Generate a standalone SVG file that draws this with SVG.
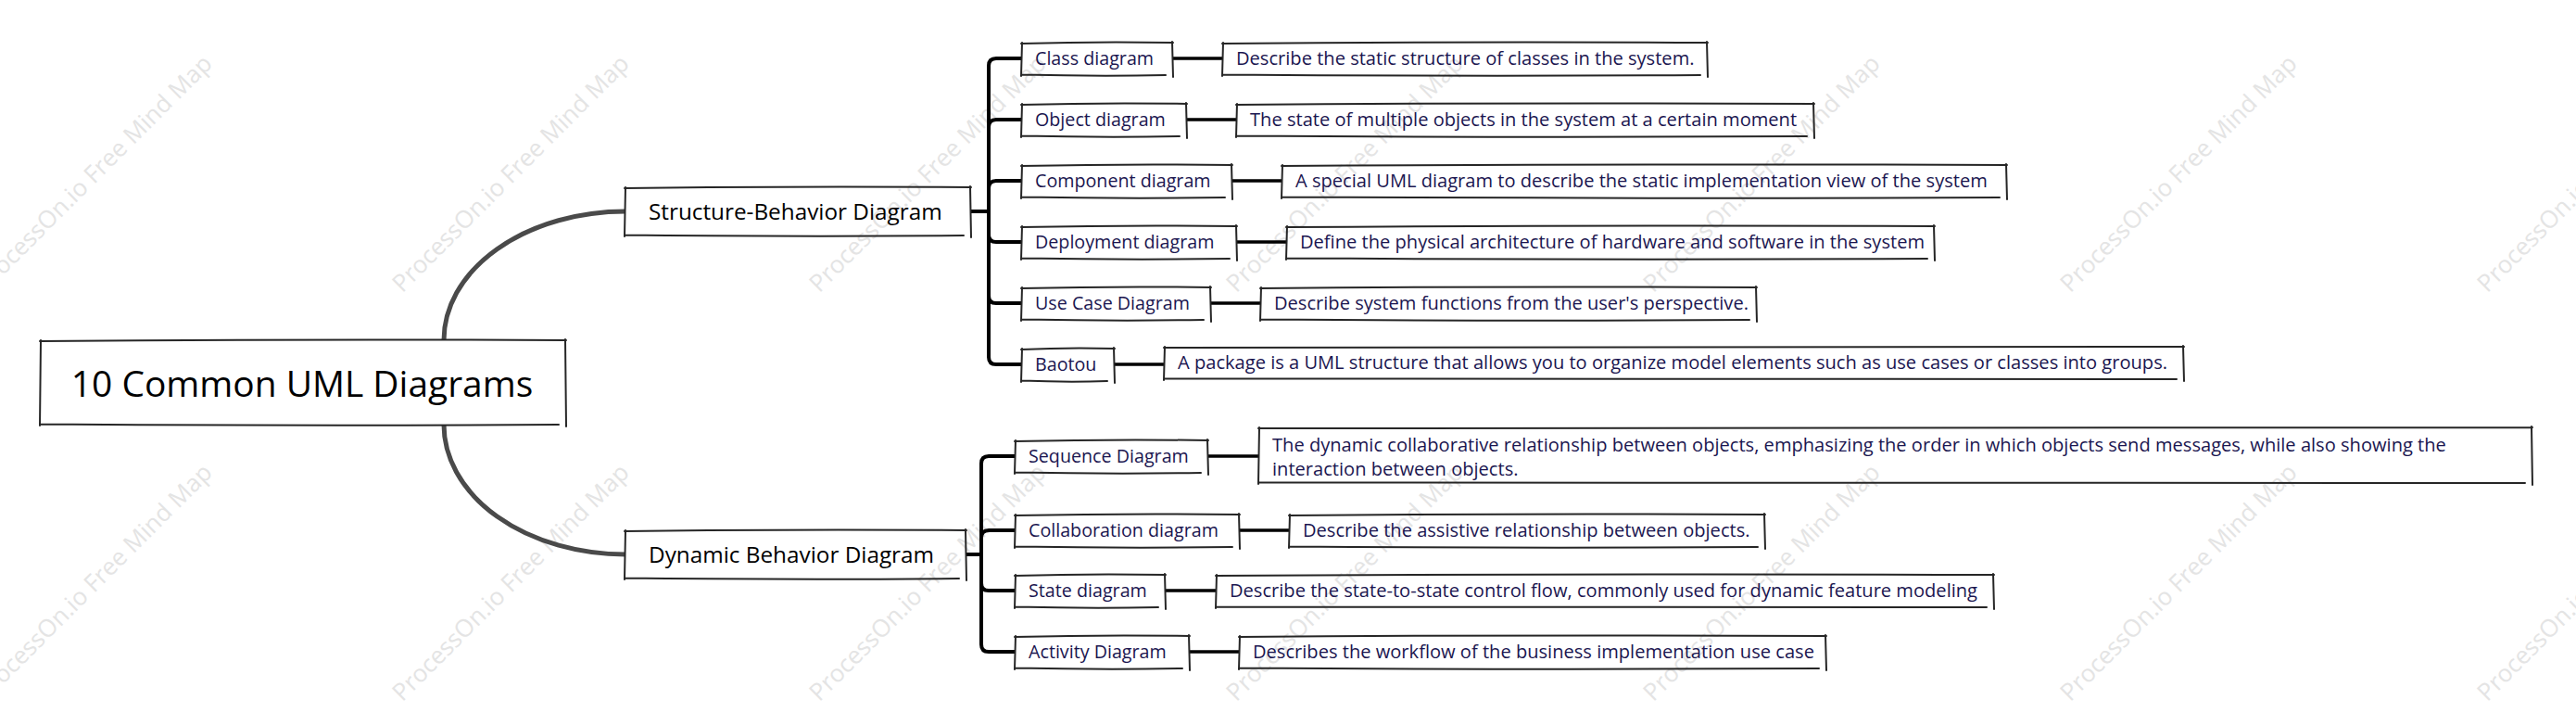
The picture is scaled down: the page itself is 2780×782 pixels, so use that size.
<svg xmlns="http://www.w3.org/2000/svg" width="2780" height="782" viewBox="0 0 2780 782">
<style>
.wm{font-family:'Open Sans','Noto Sans',sans-serif;font-size:26px;fill:#e4e4e4}
.box{fill:none;stroke:#262626;stroke-width:2;stroke-linecap:round}
.t0{font-family:'Open Sans','Noto Sans',sans-serif;font-size:38.9px;fill:#000}
.t1{font-family:'Open Sans','Noto Sans',sans-serif;font-size:24.3px;fill:#000}
.t2{font-family:'Open Sans','Noto Sans',sans-serif;font-size:20.1px;fill:#1b1650}
.t2s{font-family:'Open Sans','Noto Sans',sans-serif;font-size:19.7px;fill:#1b1650}
.c0{fill:none;stroke:#4a4a4a;stroke-width:5}
.c1{fill:none;stroke:#000;stroke-width:4}
.c2{fill:none;stroke:#000;stroke-width:3.5}
</style>
<rect width="2780" height="782" fill="#fff"/>
<g id="watermarks" text-anchor="middle">
<text class="wm" transform="translate(101,187) rotate(-45)" dy="9">ProcessOn.io Free Mind Map</text>
<text class="wm" transform="translate(551,187) rotate(-45)" dy="9">ProcessOn.io Free Mind Map</text>
<text class="wm" transform="translate(1001,187) rotate(-45)" dy="9">ProcessOn.io Free Mind Map</text>
<text class="wm" transform="translate(1451,187) rotate(-45)" dy="9">ProcessOn.io Free Mind Map</text>
<text class="wm" transform="translate(1901,187) rotate(-45)" dy="9">ProcessOn.io Free Mind Map</text>
<text class="wm" transform="translate(2351,187) rotate(-45)" dy="9">ProcessOn.io Free Mind Map</text>
<text class="wm" transform="translate(2801,187) rotate(-45)" dy="9">ProcessOn.io Free Mind Map</text>
<text class="wm" transform="translate(101,628) rotate(-45)" dy="9">ProcessOn.io Free Mind Map</text>
<text class="wm" transform="translate(551,628) rotate(-45)" dy="9">ProcessOn.io Free Mind Map</text>
<text class="wm" transform="translate(1001,628) rotate(-45)" dy="9">ProcessOn.io Free Mind Map</text>
<text class="wm" transform="translate(1451,628) rotate(-45)" dy="9">ProcessOn.io Free Mind Map</text>
<text class="wm" transform="translate(1901,628) rotate(-45)" dy="9">ProcessOn.io Free Mind Map</text>
<text class="wm" transform="translate(2351,628) rotate(-45)" dy="9">ProcessOn.io Free Mind Map</text>
<text class="wm" transform="translate(2801,628) rotate(-45)" dy="9">ProcessOn.io Free Mind Map</text>
</g>
<g id="connectors">
<path class="c0" d="M479,367 A196,139 0 0 1 675,228"/>
<path class="c0" d="M479,458 A196,140 0 0 0 675,598"/>
<path class="c1" d="M1047,228 L1067,228"/>
<path class="c1" d="M1067,228 L1067,71 Q1067,63 1075,63 L1103,63"/>
<path class="c1" d="M1067,228 L1067,137 Q1067,129 1075,129 L1103,129"/>
<path class="c1" d="M1067,228 L1067,203 Q1067,195 1075,195 L1103,195"/>
<path class="c1" d="M1067,228 L1067,253 Q1067,261 1075,261 L1103,261"/>
<path class="c1" d="M1067,228 L1067,319 Q1067,327 1075,327 L1103,327"/>
<path class="c1" d="M1067,228 L1067,385 Q1067,393 1075,393 L1103,393"/>
<path class="c1" d="M1042,598 L1059,598"/>
<path class="c1" d="M1059,598 L1059,500 Q1059,492 1067,492 L1096,492"/>
<path class="c1" d="M1059,598 L1059,580 Q1059,572 1067,572 L1096,572"/>
<path class="c1" d="M1059,598 L1059,629 Q1059,637 1067,637 L1096,637"/>
<path class="c1" d="M1059,598 L1059,695 Q1059,703 1067,703 L1096,703"/>
<path class="c2" d="M1265,63 L1320,63"/>
<path class="c2" d="M1280,129 L1335,129"/>
<path class="c2" d="M1329,195 L1384,195"/>
<path class="c2" d="M1334,261 L1389,261"/>
<path class="c2" d="M1306,327 L1361,327"/>
<path class="c2" d="M1202,393 L1257,393"/>
<path class="c2" d="M1303,492 L1359,492"/>
<path class="c2" d="M1337,572 L1392,572"/>
<path class="c2" d="M1257,637 L1313,637"/>
<path class="c2" d="M1283,703 L1338,703"/>
</g>
<g id="root">
<path class="box" d="M43,368 Q327,365.5 611,367 M610,366 L611,460 M603,458 Q327,459.5 43,457.5 M44,367 L43,459"/>
<text class="t0" x="326" y="428" text-anchor="middle">10 Common UML Diagrams</text>
</g>
<g id="structure-behavior">
<path class="box" d="M674,203 Q861,200.5 1048,202 M1047,201 L1048,256 M1040,254 Q861,255.5 674,253.5 M675,202 L674,255"/>
<text class="t1" x="700" y="237">Structure-Behavior Diagram</text>
</g>
<g id="dynamic-behavior">
<path class="box" d="M674,573 Q858,570.5 1043,572 M1042,571 L1043,626 M1035,624 Q858,625.5 674,623.5 M675,572 L674,625"/>
<text class="t1" x="700" y="607">Dynamic Behavior Diagram</text>
</g>
<g id="class-diagram">
<path class="box" d="M1102,47 Q1184,44.5 1266,46 M1265,45 L1266,83 M1258,81 Q1184,82.5 1102,80.5 M1103,46 L1102,82"/>
<text class="t2s" x="1117" y="70">Class diagram</text>
</g>
<g id="class-desc">
<path class="box" d="M1319,47 Q1581,44.5 1843,46 M1842,45 L1843,83 M1835,81 Q1581,82.5 1319,80.5 M1320,46 L1319,82"/>
<text class="t2" x="1334" y="70">Describe the static structure of classes in the system.</text>
</g>
<g id="object-diagram">
<path class="box" d="M1102,113 Q1191,110.5 1281,112 M1280,111 L1281,149 M1273,147 Q1191,148.5 1102,146.5 M1103,112 L1102,148"/>
<text class="t2s" x="1117" y="136">Object diagram</text>
</g>
<g id="object-desc">
<path class="box" d="M1334,113 Q1646,110.5 1958,112 M1957,111 L1958,149 M1950,147 Q1646,148.5 1334,146.5 M1335,112 L1334,148"/>
<text class="t2" x="1349" y="136">The state of multiple objects in the system at a certain moment</text>
</g>
<g id="component-diagram">
<path class="box" d="M1102,179 Q1216,176.5 1330,178 M1329,177 L1330,215 M1322,213 Q1216,214.5 1102,212.5 M1103,178 L1102,214"/>
<text class="t2s" x="1117" y="202">Component diagram</text>
</g>
<g id="component-desc">
<path class="box" d="M1383,179 Q1774,176.5 2166,178 M2165,177 L2166,215 M2158,213 Q1774,214.5 1383,212.5 M1384,178 L1383,214"/>
<text class="t2" x="1398" y="202">A special UML diagram to describe the static implementation view of the system</text>
</g>
<g id="deployment-diagram">
<path class="box" d="M1102,245 Q1218,242.5 1335,244 M1334,243 L1335,281 M1327,279 Q1218,280.5 1102,278.5 M1103,244 L1102,280"/>
<text class="t2s" x="1117" y="268">Deployment diagram</text>
</g>
<g id="deployment-desc">
<path class="box" d="M1388,245 Q1738,242.5 2088,244 M2087,243 L2088,281 M2080,279 Q1738,280.5 1388,278.5 M1389,244 L1388,280"/>
<text class="t2" x="1403" y="268">Define the physical architecture of hardware and software in the system</text>
</g>
<g id="use-case-diagram">
<path class="box" d="M1102,311 Q1204,308.5 1307,310 M1306,309 L1307,347 M1299,345 Q1204,346.5 1102,344.5 M1103,310 L1102,346"/>
<text class="t2s" x="1117" y="334">Use Case Diagram</text>
</g>
<g id="use-case-desc">
<path class="box" d="M1360,311 Q1628,308.5 1896,310 M1895,309 L1896,347 M1888,345 Q1628,346.5 1360,344.5 M1361,310 L1360,346"/>
<text class="t2" x="1375" y="334">Describe system functions from the user's perspective.</text>
</g>
<g id="baotou">
<path class="box" d="M1102,377 Q1152,374.5 1203,376 M1202,375 L1203,413 M1195,411 Q1152,412.5 1102,410.5 M1103,376 L1102,412"/>
<text class="t2s" x="1117" y="400">Baotou</text>
</g>
<g id="baotou-desc">
<path class="box" d="M1256,375 Q1806,372.5 2357,374 M2356,373 L2357,411 M2349,409 Q1806,410.5 1256,408.5 M1257,374 L1256,410"/>
<text class="t2" x="1271" y="398">A package is a UML structure that allows you to organize model elements such as use cases or classes into groups.</text>
</g>
<g id="sequence-diagram">
<path class="box" d="M1095,476 Q1199,473.5 1304,475 M1303,474 L1304,512 M1296,510 Q1199,511.5 1095,509.5 M1096,475 L1095,511"/>
<text class="t2s" x="1110" y="499">Sequence Diagram</text>
</g>
<g id="sequence-desc">
<path class="box" d="M1358,462 Q2045,459.5 2733,461 M2732,460 L2733,523 M2725,521 Q2045,522.5 1358,520.5 M1359,461 L1358,522"/>
<text class="t2" x="1373" y="487">The dynamic collaborative relationship between objects, emphasizing the order in which objects send messages, while also showing the</text>
<text class="t2" x="1373" y="513">interaction between objects.</text>
</g>
<g id="collaboration-diagram">
<path class="box" d="M1095,556 Q1216,553.5 1338,555 M1337,554 L1338,592 M1330,590 Q1216,591.5 1095,589.5 M1096,555 L1095,591"/>
<text class="t2s" x="1110" y="579">Collaboration diagram</text>
</g>
<g id="collaboration-desc">
<path class="box" d="M1391,556 Q1648,553.5 1905,555 M1904,554 L1905,592 M1897,590 Q1648,591.5 1391,589.5 M1392,555 L1391,591"/>
<text class="t2" x="1406" y="579">Describe the assistive relationship between objects.</text>
</g>
<g id="state-diagram">
<path class="box" d="M1095,621 Q1176,618.5 1258,620 M1257,619 L1258,657 M1250,655 Q1176,656.5 1095,654.5 M1096,620 L1095,656"/>
<text class="t2s" x="1110" y="644">State diagram</text>
</g>
<g id="state-desc">
<path class="box" d="M1312,621 Q1732,618.5 2152,620 M2151,619 L2152,657 M2144,655 Q1732,656.5 1312,654.5 M1313,620 L1312,656"/>
<text class="t2" x="1327" y="644">Describe the state-to-state control flow, commonly used for dynamic feature modeling</text>
</g>
<g id="activity-diagram">
<path class="box" d="M1095,687 Q1189,684.5 1284,686 M1283,685 L1284,723 M1276,721 Q1189,722.5 1095,720.5 M1096,686 L1095,722"/>
<text class="t2s" x="1110" y="710">Activity Diagram</text>
</g>
<g id="activity-desc">
<path class="box" d="M1337,687 Q1654,684.5 1971,686 M1970,685 L1971,723 M1963,721 Q1654,722.5 1337,720.5 M1338,686 L1337,722"/>
<text class="t2" x="1352" y="710">Describes the workflow of the business implementation use case</text>
</g>
</svg>
